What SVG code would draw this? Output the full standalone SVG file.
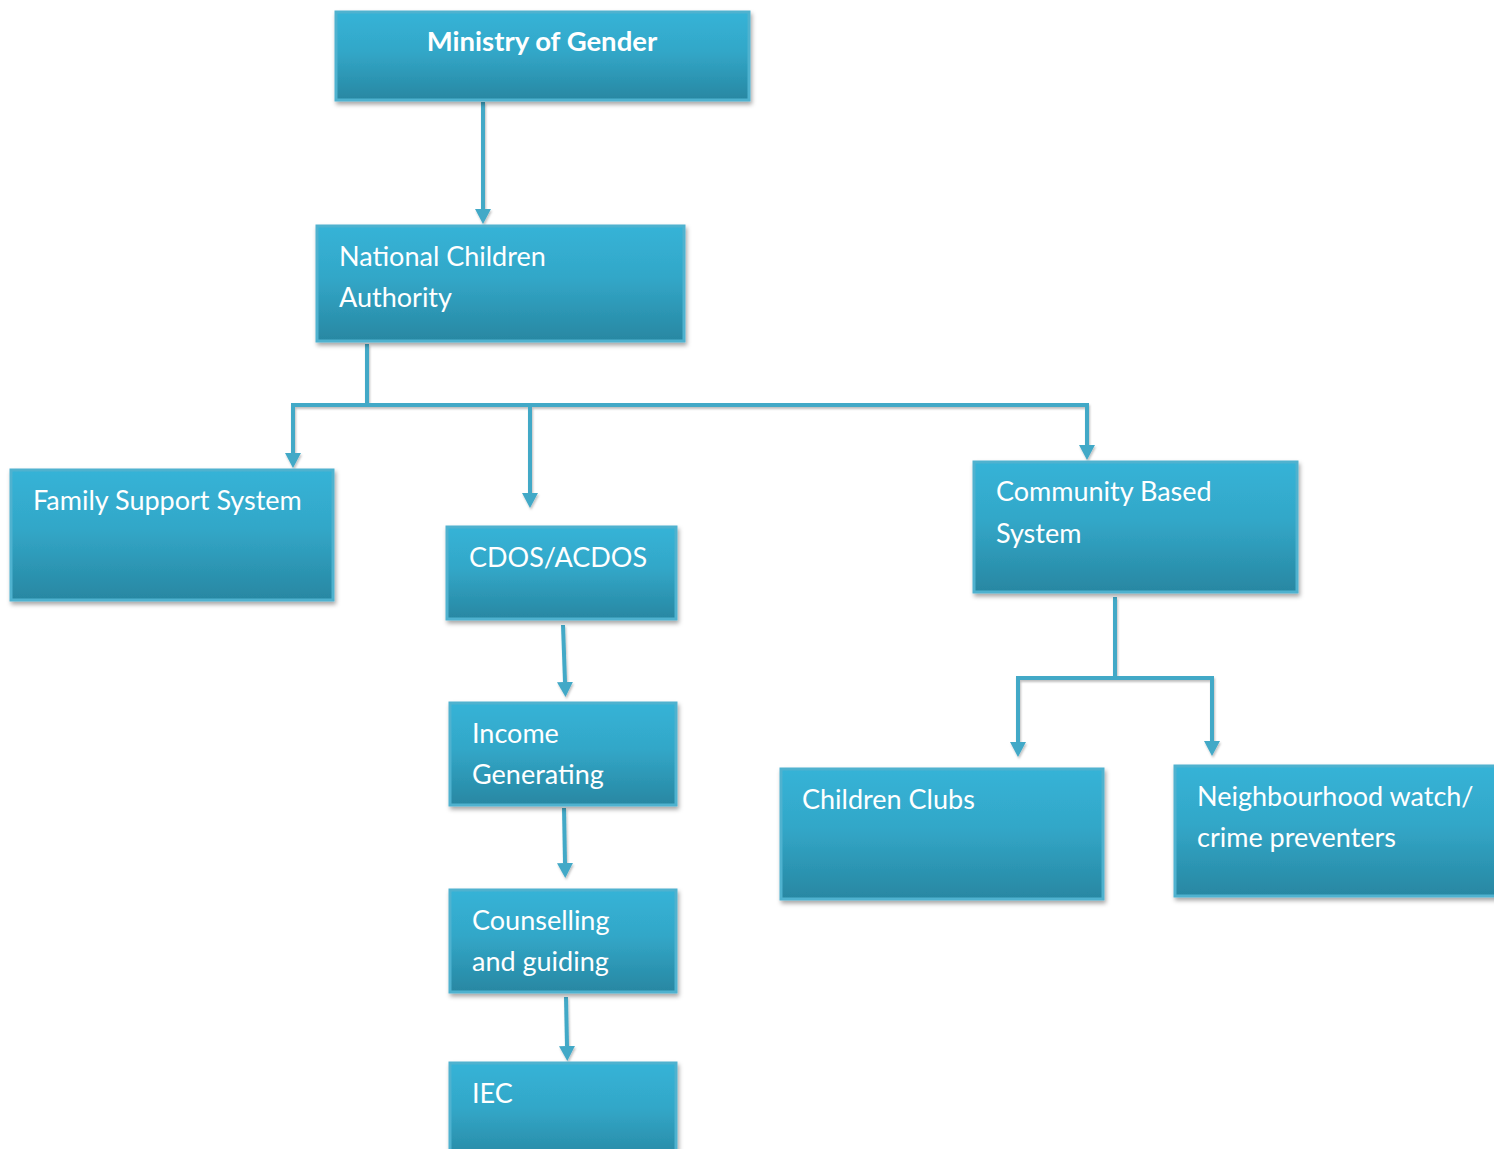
<svg xmlns="http://www.w3.org/2000/svg" width="1494" height="1149" viewBox="0 0 1494 1149">
  <defs>
    <linearGradient id="boxFill" x1="0" y1="0" x2="0" y2="1">
      <stop offset="0" stop-color="#36b3d7"/>
      <stop offset="0.45" stop-color="#32a7c8"/>
      <stop offset="1" stop-color="#2887a2"/>
    </linearGradient>
    <filter id="shadow" x="-10%" y="-10%" width="125%" height="130%">
      <feDropShadow dx="1.5" dy="3" stdDeviation="2.2" flood-color="#000" flood-opacity="0.35"/>
    </filter>
    <filter id="lineShadow" filterUnits="userSpaceOnUse" x="0" y="0" width="1494" height="1149">
      <feDropShadow dx="1" dy="2" stdDeviation="1.2" flood-color="#000" flood-opacity="0.25"/>
    </filter>
    <!-- arrowhead: base sits on the line end, tip 15px beyond -->
    <marker id="arrow" viewBox="0 0 15 16" refX="0" refY="8" markerWidth="15" markerHeight="16" markerUnits="userSpaceOnUse" orient="auto">
      <path d="M0,0 L15,8 L0,16 Z" fill="#43a9c7"/>
    </marker>
  </defs>
  <style>
    .box { fill: url(#boxFill); stroke: #4fb2cf; stroke-width: 3; filter: url(#shadow); }
    .label { font-family: Lato, "Open Sans", sans-serif; font-size: 27px; fill: #ffffff; }
    .bold { font-weight: bold; font-size: 27.5px; }
    .conn { fill: none; stroke: #43a9c7; stroke-width: 4; }
  </style>
  <rect width="1494" height="1149" fill="#ffffff"/>

  <g id="connectors" filter="url(#lineShadow)">
    <path class="conn" d="M483,102 V209" marker-end="url(#arrow)"/>
    <path class="conn" d="M367,344 V405"/>
    <path class="conn" d="M291,405 H1089"/>
    <path class="conn" d="M293,405 V453" marker-end="url(#arrow)"/>
    <path class="conn" d="M530,405 V493" marker-end="url(#arrow)"/>
    <path class="conn" d="M1087,405 V445" marker-end="url(#arrow)"/>
    <path class="conn" d="M563,625 L565,682" marker-end="url(#arrow)"/>
    <path class="conn" d="M564,808 L565,863" marker-end="url(#arrow)"/>
    <path class="conn" d="M566,997 L567,1046" marker-end="url(#arrow)"/>
    <path class="conn" d="M1115,597 V678"/>
    <path class="conn" d="M1016,678 H1214"/>
    <path class="conn" d="M1018,678 V742" marker-end="url(#arrow)"/>
    <path class="conn" d="M1212,678 V741" marker-end="url(#arrow)"/>
  </g>

  <g id="ministry">
    <rect class="box" x="336" y="12" width="413" height="88"/>
    <text class="label bold" x="542" y="51" text-anchor="middle">Ministry of Gender</text>
  </g>
  <g id="national-children-authority">
    <rect class="box" x="317" y="226" width="367" height="115"/>
    <text class="label" x="339" y="266">National Children</text>
    <text class="label" x="339" y="307">Authority</text>
  </g>
  <g id="family-support">
    <rect class="box" x="11" y="470" width="322" height="130"/>
    <text class="label" x="33" y="510">Family Support System</text>
  </g>
  <g id="cdos">
    <rect class="box" x="447" y="527" width="229" height="92"/>
    <text class="label" x="469" y="567">CDOS/ACDOS</text>
  </g>
  <g id="community-based">
    <rect class="box" x="974" y="462" width="323" height="130"/>
    <text class="label" x="996" y="501">Community Based</text>
    <text class="label" x="996" y="543">System</text>
  </g>
  <g id="income-generating">
    <rect class="box" x="450" y="703" width="226" height="102"/>
    <text class="label" x="472" y="743">Income</text>
    <text class="label" x="472" y="784">Generating</text>
  </g>
  <g id="counselling">
    <rect class="box" x="450" y="890" width="226" height="102"/>
    <text class="label" x="472" y="930">Counselling</text>
    <text class="label" x="472" y="971">and guiding</text>
  </g>
  <g id="iec">
    <rect class="box" x="450" y="1063" width="226" height="100"/>
    <text class="label" x="472" y="1103">IEC</text>
  </g>
  <g id="children-clubs">
    <rect class="box" x="781" y="769" width="322" height="130"/>
    <text class="label" x="802" y="809">Children Clubs</text>
  </g>
  <g id="neighbourhood-watch">
    <rect class="box" x="1175" y="766" width="330" height="130"/>
    <text class="label" x="1197" y="806">Neighbourhood watch/</text>
    <text class="label" x="1197" y="847">crime preventers</text>
  </g>
</svg>
